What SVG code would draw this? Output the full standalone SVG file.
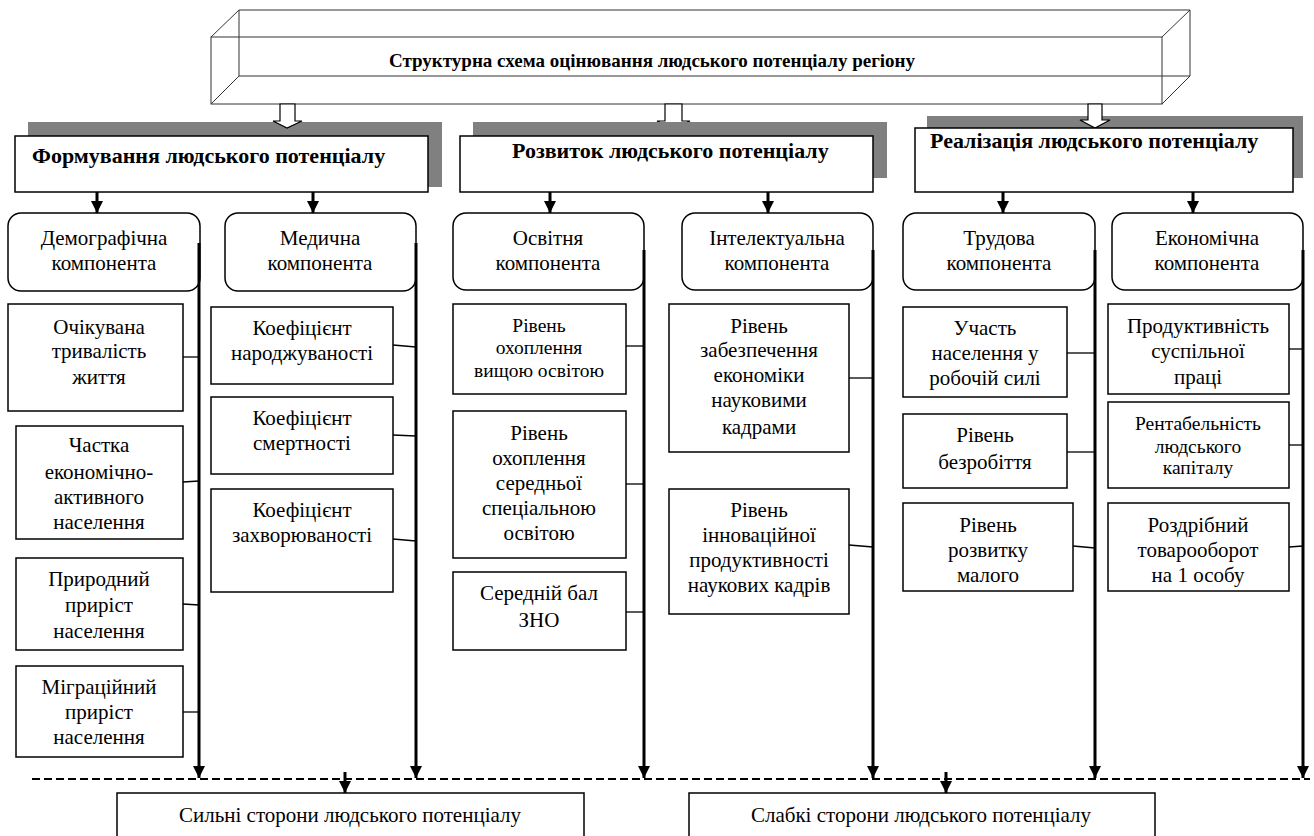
<svg xmlns="http://www.w3.org/2000/svg" width="1314" height="836" viewBox="0 0 1314 836" font-family="Liberation Serif, Tinos, DejaVu Serif, serif">
<defs>
<style>
text{font-family:Liberation Serif, Tinos, DejaVu Serif, serif}
.t{font-size:21px;fill:#000;text-anchor:middle}
.s{font-size:19.5px}
.hb{font-size:22px;font-weight:bold;fill:#000}
.box{fill:#fff;stroke:#000;stroke-width:1.5}
.comp{fill:#fff;stroke:#000;stroke-width:1.5}
.shadow{fill:#808080}
.thin{stroke:#000;stroke-width:1.3;fill:none}
.thick{stroke:#000;stroke-width:3;fill:none}
.cube{stroke:#333;stroke-width:1;fill:none}
.hollow{fill:#fff;stroke:#000;stroke-width:1.2}
</style>
<marker id="ah" viewBox="0 0 12 12" refX="12" refY="6" markerWidth="12" markerHeight="12" markerUnits="userSpaceOnUse" orient="auto">
<path d="M0,0 L12,6 L0,12 Z" fill="#000"/>
</marker>
</defs>
<rect width="1314" height="836" fill="#fff"/>

<g id="title">
<rect x="211" y="37" width="951" height="67" fill="#fff"/>
<path class="cube" d="M239,10 H1190 V76 H239 Z M211,37 L239,10 M211,104 L239,76 M1162,37 L1190,10 M1162,104 L1190,76"/>
<rect class="cube" x="211" y="37" width="951" height="67"/>
<text class="hb" x="652" y="67" text-anchor="middle" style="font-size:19px">Структурна схема оцінювання людського потенціалу регіону</text>
</g>

<g id="arrow-hollow-2">
<path class="hollow" d="M665,104 V121 H657 L673,129 L690,121 H682 V104 Z"/>
</g>

<g id="h1">
<rect class="shadow" x="28" y="122" width="414" height="65"/>
<path class="hollow" d="M280,104 V121 H273 L287,128 L302,121 H295 V104 Z"/>
<rect class="box" x="15" y="136" width="413" height="56"/>
<text class="hb" x="32" y="163">Формування людського потенціалу</text>
</g>
<g id="h2">
<rect class="shadow" x="473" y="122" width="414" height="56"/>
<rect class="box" x="460" y="136" width="413" height="56"/>
<text class="hb" x="512" y="158">Розвиток людського потенціалу</text>
</g>
<g id="h3">
<rect class="shadow" x="927" y="116" width="376" height="62"/>
<path class="hollow" d="M1088,104 V120 H1080 L1095,128 L1110,120 H1102 V104 Z"/>
<rect class="box" x="915" y="128" width="378" height="64"/>
<text class="hb" x="930" y="148">Реалізація людського потенціалу</text>
</g>

<g id="c-demo"><rect class="comp" x="8" y="213" width="192" height="78" rx="13"/>
<text class="t" x="104" y="245">Демографічна</text><text class="t" x="104" y="270">компонента</text></g>
<g id="c-med"><rect class="comp" x="225" y="213" width="191" height="78" rx="13"/>
<text class="t" x="320" y="245">Медична</text><text class="t" x="320" y="270">компонента</text></g>
<g id="c-osv"><rect class="comp" x="453" y="213" width="191" height="77" rx="13"/>
<text class="t" x="548" y="245">Освітня</text><text class="t" x="548" y="270">компонента</text></g>
<g id="c-int"><rect class="comp" x="682" y="213" width="191" height="77" rx="13"/>
<text class="t" x="777" y="245">Інтелектуальна</text><text class="t" x="777" y="270">компонента</text></g>
<g id="c-trud"><rect class="comp" x="903" y="213" width="192" height="77" rx="13"/>
<text class="t" x="999" y="245">Трудова</text><text class="t" x="999" y="270">компонента</text></g>
<g id="c-ek"><rect class="comp" x="1112" y="213" width="191" height="77" rx="13"/>
<text class="t" x="1207" y="245">Економічна</text><text class="t" x="1207" y="270">компонента</text></g>

<g id="l-ochik"><rect class="box" x="8" y="304" width="175" height="107"/>
<text class="t" x="99" y="334">Очікувана</text><text class="t" x="99" y="358">тривалість</text><text class="t" x="99" y="384">життя</text></g>
<g id="l-chastka"><rect class="box" x="16" y="426" width="167" height="113"/>
<text class="t" x="99" y="452">Частка</text><text class="t" x="99" y="479">економічно-</text><text class="t" x="99" y="504">активного</text><text class="t" x="99" y="529">населення</text></g>
<g id="l-pryrod"><rect class="box" x="16" y="558" width="167" height="92"/>
<text class="t" x="99" y="586">Природний</text><text class="t" x="99" y="612">приріст</text><text class="t" x="99" y="638">населення</text></g>
<g id="l-migr"><rect class="box" x="16" y="666" width="167" height="91"/>
<text class="t" x="99" y="694">Міграційний</text><text class="t" x="99" y="719">приріст</text><text class="t" x="99" y="744">населення</text></g>

<g id="l-narod"><rect class="box" x="211" y="307" width="182" height="77"/>
<text class="t" x="302" y="335">Коефіцієнт</text><text class="t" x="302" y="360">народжуваності</text></g>
<g id="l-smert"><rect class="box" x="211" y="397" width="182" height="77"/>
<text class="t" x="302" y="425">Коефіцієнт</text><text class="t" x="302" y="450">смертності</text></g>
<g id="l-zahv"><rect class="box" x="211" y="489" width="182" height="103"/>
<text class="t" x="302" y="517">Коефіцієнт</text><text class="t" x="302" y="542">захворюваності</text></g>

<g id="l-vyshch"><rect class="box" x="453" y="304" width="173" height="90"/>
<text class="t s" x="539" y="332">Рівень</text><text class="t s" x="539" y="354">охоплення</text><text class="t s" x="539" y="377">вищою освітою</text></g>
<g id="l-sered"><rect class="box" x="453" y="411" width="173" height="147"/>
<text class="t" x="539" y="440">Рівень</text><text class="t" x="539" y="465">охоплення</text><text class="t" x="539" y="490">середньої</text><text class="t" x="539" y="515">спеціальною</text><text class="t" x="539" y="540">освітою</text></g>
<g id="l-zno"><rect class="box" x="453" y="572" width="173" height="78"/>
<text class="t" x="539" y="600">Середній бал</text><text class="t" x="539" y="627">ЗНО</text></g>

<g id="l-zabez"><rect class="box" x="669" y="304" width="180" height="148"/>
<text class="t" x="759" y="333">Рівень</text><text class="t" x="759" y="357">забезпечення</text><text class="t" x="759" y="382">економіки</text><text class="t" x="759" y="407">науковими</text><text class="t" x="759" y="434">кадрами</text></g>
<g id="l-innov"><rect class="box" x="669" y="489" width="180" height="125"/>
<text class="t" x="759" y="517">Рівень</text><text class="t" x="759" y="542">інноваційної</text><text class="t" x="759" y="567">продуктивності</text><text class="t" x="759" y="592">наукових кадрів</text></g>

<g id="l-uchast"><rect class="box" x="903" y="307" width="164" height="90"/>
<text class="t" x="985" y="335">Участь</text><text class="t" x="985" y="360">населення у</text><text class="t" x="985" y="385">робочій силі</text></g>
<g id="l-bezrob"><rect class="box" x="903" y="414" width="164" height="74"/>
<text class="t" x="985" y="442">Рівень</text><text class="t" x="985" y="469">безробіття</text></g>
<g id="l-maloho"><rect class="box" x="903" y="503" width="170" height="88"/>
<text class="t" x="988" y="532">Рівень</text><text class="t" x="988" y="557">розвитку</text><text class="t" x="988" y="582">малого</text></g>

<g id="l-produkt"><rect class="box" x="1108" y="304" width="181" height="90"/>
<text class="t" x="1198" y="333">Продуктивність</text><text class="t" x="1198" y="358">суспільної</text><text class="t" x="1198" y="384">праці</text></g>
<g id="l-rentab"><rect class="box" x="1108" y="402" width="181" height="86"/>
<text class="t s" x="1198" y="430">Рентабельність</text><text class="t s" x="1198" y="453">людського</text><text class="t s" x="1198" y="474">капіталу</text></g>
<g id="l-rozdr"><rect class="box" x="1108" y="503" width="181" height="88"/>
<text class="t" x="1198" y="532">Роздрібний</text><text class="t" x="1198" y="557">товарооборот</text><text class="t" x="1198" y="582">на 1 особу</text></g>

<g id="b-strong"><rect class="box" x="117" y="793" width="467" height="50"/>
<text class="t" x="350" y="822">Сильні сторони людського потенціалу</text></g>
<g id="b-weak"><rect class="box" x="689" y="793" width="466" height="50"/>
<text class="t" x="921" y="822">Слабкі сторони людського потенціалу</text></g>

<g id="connectors">
<line class="thick" x1="97" y1="192" x2="97" y2="213" marker-end="url(#ah)"/>
<line class="thick" x1="313" y1="192" x2="313" y2="213" marker-end="url(#ah)"/>
<line class="thick" x1="550" y1="192" x2="550" y2="213" marker-end="url(#ah)"/>
<line class="thick" x1="768" y1="192" x2="768" y2="213" marker-end="url(#ah)"/>
<line class="thick" x1="1003" y1="192" x2="1003" y2="213" marker-end="url(#ah)"/>
<line class="thick" x1="1193" y1="192" x2="1193" y2="213" marker-end="url(#ah)"/>

<line class="thick" x1="199" y1="243" x2="199" y2="778" marker-end="url(#ah)"/>
<line class="thick" x1="416" y1="243" x2="416" y2="778" marker-end="url(#ah)"/>
<line class="thick" x1="644" y1="250" x2="644" y2="778" marker-end="url(#ah)"/>
<line class="thick" x1="873" y1="250" x2="873" y2="778" marker-end="url(#ah)"/>
<line class="thick" x1="1095" y1="250" x2="1095" y2="778" marker-end="url(#ah)"/>
<line class="thick" x1="1303" y1="250" x2="1303" y2="778" marker-end="url(#ah)"/>

<line class="thin" x1="183" y1="357" x2="199" y2="357"/>
<line class="thin" x1="183" y1="482" x2="199" y2="481"/>
<line class="thin" x1="183" y1="604" x2="199" y2="605"/>
<line class="thin" x1="183" y1="712" x2="199" y2="712"/>
<line class="thin" x1="393" y1="345" x2="416" y2="347"/>
<line class="thin" x1="393" y1="435" x2="416" y2="436"/>
<line class="thin" x1="393" y1="539" x2="416" y2="541"/>
<line class="thin" x1="626" y1="346" x2="644" y2="346"/>
<line class="thin" x1="626" y1="484" x2="644" y2="484"/>
<line class="thin" x1="626" y1="612" x2="644" y2="612"/>
<line class="thin" x1="849" y1="378" x2="873" y2="378"/>
<line class="thin" x1="849" y1="545" x2="873" y2="547"/>
<line class="thin" x1="1067" y1="353" x2="1095" y2="353"/>
<line class="thin" x1="1067" y1="452" x2="1095" y2="452"/>
<line class="thin" x1="1073" y1="546" x2="1095" y2="548"/>
<line class="thin" x1="1289" y1="349" x2="1303" y2="349"/>
<line class="thin" x1="1289" y1="445" x2="1303" y2="445"/>
<line class="thin" x1="1289" y1="547" x2="1303" y2="546"/>

<line x1="32" y1="779" x2="1310" y2="779" stroke="#000" stroke-width="2" stroke-dasharray="8,4"/>
<line class="thick" x1="345" y1="772" x2="345" y2="793" marker-end="url(#ah)"/>
<line class="thick" x1="946" y1="772" x2="946" y2="793" marker-end="url(#ah)"/>
</g>
</svg>
